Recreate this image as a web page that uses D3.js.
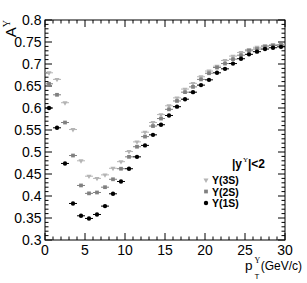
<!DOCTYPE html>
<html>
<head>
<meta charset="utf-8">
<script src="https://cdn.jsdelivr.net/npm/d3@7"></script>
<style>
  body { margin: 0; background: #fff; }
  svg { font-family: "Liberation Sans", Arial, sans-serif; }
</style>
</head>
<body>
<svg id="chart" width="307" height="283"></svg>
<script>
// bin centres in pT (GeV/c)
const ptBins = [0.5, 1.5, 2.5, 3.5, 4.5, 5.5, 6.5, 7.5, 8.5, 9.5,
    10.5, 11.5, 12.5, 13.5, 14.5, 15.5, 16.5, 17.5, 18.5, 19.5,
    20.5, 21.5, 22.5, 23.5, 24.5, 25.5, 26.5, 27.5, 28.5, 29.5]

const a1S = [0.600, 0.555, 0.474, 0.383, 0.355, 0.349, 0.358, 0.377, 0.405, 0.433,
    0.462, 0.489, 0.515, 0.539, 0.562, 0.583, 0.603, 0.620, 0.636, 0.652,
    0.664, 0.680, 0.689, 0.701, 0.712, 0.722, 0.728, 0.734, 0.737, 0.739]
const a2S = [0.655, 0.630, 0.567, 0.492, 0.424, 0.406, 0.408, 0.420, 0.438, 0.462,
    0.489, 0.512, 0.535, 0.559, 0.576, 0.597, 0.616, 0.636, 0.648, 0.665,
    0.679, 0.692, 0.701, 0.711, 0.720, 0.730, 0.734, 0.739, 0.742, 0.743]
const a3S = [0.680, 0.665, 0.612, 0.551, 0.480, 0.445, 0.440, 0.448, 0.463, 0.478,
    0.501, 0.523, 0.545, 0.567, 0.585, 0.605, 0.623, 0.643, 0.656, 0.671,
    0.684, 0.695, 0.708, 0.718, 0.726, 0.733, 0.738, 0.742, 0.744, 0.744]

const xTicks = [0, 5, 10, 15, 20, 25, 30]
const yTicks = [0.3, 0.35, 0.4, 0.45, 0.5, 0.55, 0.6, 0.65, 0.7, 0.75, 0.8]

const series = [
    { name: 'Υ(3S)', values: a3S, color: '#b4b4b4', shape: d3.symbolTriangle, flip: true, size: 11 },
    { name: 'Υ(2S)', values: a2S, color: '#808080', shape: d3.symbolSquare, flip: false, size: 14 },
    { name: 'Υ(1S)', values: a1S, color: '#000000', shape: d3.symbolCircle, flip: false, size: 15 }
]

const margin = { left: 45, right: 22, top: 20, bottom: 43 }
const width = 307
const height = 283

const svg = d3.select('#chart')

const x = d3.scaleLinear().domain([0, 30]).range([margin.left, width - margin.right])
const y = d3.scaleLinear().domain([0.3, 0.8]).range([height - margin.bottom, margin.top])

const minorX = d3.range(0, 31, 1)
const minorY = d3.range(0, 51, 1).map((i) => 0.3 + i * 0.01)

// frame
svg.append('rect')
    .attr('x', x(0))
    .attr('y', y(0.8))
    .attr('width', x(30) - x(0))
    .attr('height', y(0.3) - y(0.8))
    .attr('fill', 'none')
    .attr('stroke', '#000')

const ticks = svg.append('g').attr('stroke', '#000').attr('stroke-width', 1)

// x ticks on bottom and top, pointing inward
minorX.forEach((v) => {
    const len = v % 5 === 0 ? 7 : 3.5
    ticks.append('line').attr('x1', x(v)).attr('x2', x(v))
        .attr('y1', y(0.3)).attr('y2', y(0.3) - len)
    ticks.append('line').attr('x1', x(v)).attr('x2', x(v))
        .attr('y1', y(0.8)).attr('y2', y(0.8) + len)
})

// y ticks on left and right
minorY.forEach((v, i) => {
    const len = i % 5 === 0 ? 7 : 3.5
    ticks.append('line').attr('y1', y(v)).attr('y2', y(v))
        .attr('x1', x(0)).attr('x2', x(0) + len)
    ticks.append('line').attr('y1', y(v)).attr('y2', y(v))
        .attr('x1', x(30)).attr('x2', x(30) - len)
})

svg.append('g')
    .selectAll('text')
    .data(xTicks)
    .enter()
    .append('text')
    .attr('x', (d) => x(d))
    .attr('y', y(0.3) + 14.5)
    .attr('text-anchor', 'middle')
    .attr('font-size', 14)
    .text((d) => d)

svg.append('g')
    .selectAll('text')
    .data(yTicks)
    .enter()
    .append('text')
    .attr('x', x(0) - 3.5)
    .attr('y', (d) => y(d) + 5)
    .attr('text-anchor', 'end')
    .attr('font-size', 14)
    .text((d) => d3.format('')(d))

// y title  A^Υ (rotated)
const yTitle = svg.append('text')
    .attr('transform', `translate(16, ${margin.top}) rotate(-90)`)
    .attr('text-anchor', 'end')
    .attr('font-size', 15)
yTitle.append('tspan').text('A')
yTitle.append('tspan').attr('font-size', 10).attr('dy', -6).attr('font-family', 'Liberation Serif').text('Υ')

// x title  p_T^Υ (GeV/c), pieces placed separately
svg.append('text').attr('x', 245).attr('y', 270).attr('font-size', 13.5).text('p')
svg.append('text').attr('x', 254.5).attr('y', 263).attr('font-size', 8)
    .attr('font-family', 'Liberation Serif').text('Υ')
svg.append('text').attr('x', 254.5).attr('y', 279).attr('font-size', 8).text('T')
svg.append('text').attr('x', 302).attr('y', 270).attr('text-anchor', 'end')
    .attr('font-size', 12).text('(GeV/c)')

// points with horizontal bin-width bars
series.forEach((s) => {
    const g = svg.append('g')
    const pts = ptBins.map((p, i) => ({ p: p, a: s.values[i] }))
    g.selectAll('line.err')
        .data(pts)
        .enter()
        .append('line')
        .attr('class', 'err')
        .attr('x1', (d) => x(d.p - 0.5))
        .attr('x2', (d) => x(d.p + 0.5))
        .attr('y1', (d) => y(d.a))
        .attr('y2', (d) => y(d.a))
        .attr('stroke', s.color)
        .attr('stroke-width', 1)
    g.selectAll('path.mk')
        .data(pts)
        .enter()
        .append('path')
        .attr('class', 'mk')
        .attr('d', d3.symbol().type(s.shape).size(s.size))
        .attr('transform', (d) => `translate(${x(d.p)}, ${y(d.a)})${s.flip ? ' rotate(180)' : ''}`)
        .attr('fill', s.color)
})

// legend
const legend = svg.append('g').attr('font-weight', 'bold')
legend.append('text').attr('x', 232).attr('y', 168).attr('font-size', 12).text('|y')
legend.append('text').attr('x', 243).attr('y', 162).attr('font-size', 7)
    .attr('font-weight', 'normal').attr('font-family', 'Liberation Serif').text('Υ')
legend.append('text').attr('x', 248).attr('y', 168).attr('font-size', 12).text('|<2')

const legendItem = legend.selectAll('g.item')
    .data(series)
    .enter()
    .append('g')
    .attr('class', 'item')
    .attr('transform', (d, i) => `translate(206, ${180 + i * 11.5})`)

legendItem.append('path')
    .attr('d', (d) => d3.symbol().type(d.shape).size(d.size)())
    .attr('transform', (d) => d.flip ? 'rotate(180)' : '')
    .attr('fill', (d) => d.color)

legendItem.append('text')
    .attr('x', 6)
    .attr('y', 4)
    .attr('font-size', 10.5)
    .text((d) => d.name)
</script>
</body>
</html>
